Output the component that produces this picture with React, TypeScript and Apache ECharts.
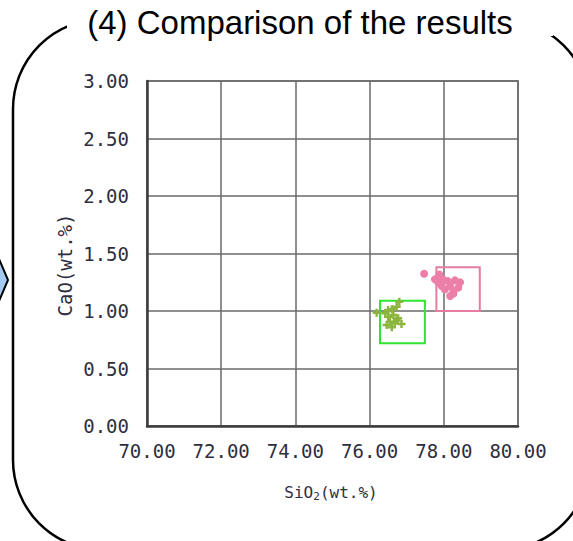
import React, { useEffect, useRef } from 'react';
import * as echarts from 'echarts';

const titleText = '(4) Comparison of the results';
const xAxisName = 'SiO2(wt.%)';
const yAxisName = 'CaO(wt.%)';

const xMin = 70;
const xMax = 80;
const xStep = 2;
const yMin = 0;
const yMax = 3;
const yStep = 0.5;

// pink group
const pinkSiO2 = [77.47, 77.88, 77.98, 77.85, 78.11, 78.3, 78.44, 78.17, 78.39, 78.26, 78.17, 78.26, 77.94, 77.76, 78.03];
const pinkCaO = [1.324, 1.318, 1.275, 1.249, 1.26, 1.266, 1.249, 1.217, 1.203, 1.173, 1.13, 1.151, 1.217, 1.275, 1.188];

// green group
const greenSiO2 = [76.8, 76.73, 76.6, 76.42, 76.19, 76.5, 76.64, 76.77, 76.55, 76.68, 76.86, 76.46, 76.6, 76.73, 76.5];
const greenCaO = [1.081, 1.037, 1.015, 0.98, 0.985, 0.95, 0.965, 0.937, 0.907, 0.893, 0.887, 0.878, 0.858, 0.92, 1.009];

// range boxes [xFrom, yFrom, xTo, yTo]
const pinkBox = [77.8, 1.0, 78.97, 1.38];
const greenBox = [76.28, 0.72, 77.49, 1.09];

const MONO = '"DejaVu Sans Mono", "Liberation Mono", monospace';
const LABEL_COLOR = '#2e2e3e';

const plusPath = 'path://M3.5,0 L6.5,0 L6.5,3.5 L10,3.5 L10,6.5 L6.5,6.5 L6.5,10 L3.5,10 L3.5,6.5 L0,6.5 L0,3.5 L3.5,3.5 Z';

export default function App() {
  const ref = useRef<HTMLDivElement>(null);

  useEffect(() => {
    document.body.style.margin = '0';
    if (!ref.current) return;
    const chart = echarts.init(ref.current, null, { renderer: 'svg' });

    const pinkData = pinkSiO2.map((x, i) => [x, pinkCaO[i]]);
    const greenData = greenSiO2.map((x, i) => [x, greenCaO[i]]);

    chart.setOption({
      animation: false,
      backgroundColor: '#ffffff',
      grid: {
        left: 147,
        top: 81,
        width: 371,
        height: 345,
        show: true,
        borderColor: '#8a8a8a',
        borderWidth: 2,
        containLabel: false,
      },
      xAxis: {
        type: 'value',
        min: xMin,
        max: xMax,
        interval: xStep,
        axisLine: { show: true, onZero: false, lineStyle: { color: '#3c3c3c', width: 2.5 } },
        axisTick: { show: false },
        splitLine: { show: true, lineStyle: { color: '#6a6a6a', width: 1.5 } },
        axisLabel: {
          margin: 15,
          formatter: (v: number) => v.toFixed(2),
          fontFamily: MONO,
          fontSize: 19,
          color: LABEL_COLOR,
        },
      },
      yAxis: {
        type: 'value',
        min: yMin,
        max: yMax,
        interval: yStep,
        axisLine: { show: true, onZero: false, lineStyle: { color: '#3c3c3c', width: 2.5 } },
        axisTick: { show: false },
        splitLine: { show: true, lineStyle: { color: '#6a6a6a', width: 1.5 } },
        axisLabel: {
          margin: 18,
          formatter: (v: number) => v.toFixed(2),
          fontFamily: MONO,
          fontSize: 19,
          color: LABEL_COLOR,
        },
      },
      series: [
        {
          type: 'scatter',
          name: 'pink',
          data: pinkData,
          symbol: 'circle',
          symbolSize: 8,
          itemStyle: { color: '#ec7fa8', opacity: 1 },
          markArea: {
            silent: true,
            itemStyle: { color: 'rgba(0,0,0,0)', borderColor: '#e67d9f', borderWidth: 2 },
            data: [[{ coord: [pinkBox[0], pinkBox[1]] }, { coord: [pinkBox[2], pinkBox[3]] }]],
          },
        },
        {
          type: 'scatter',
          name: 'green',
          data: greenData,
          symbol: plusPath,
          symbolSize: 8,
          itemStyle: { color: '#8cb53e', opacity: 1 },
          markArea: {
            silent: true,
            itemStyle: { color: 'rgba(0,0,0,0)', borderColor: '#2fe52f', borderWidth: 2 },
            data: [[{ coord: [greenBox[0], greenBox[1]] }, { coord: [greenBox[2], greenBox[3]] }]],
          },
        },
      ],
      graphic: [
        {
          type: 'rect',
          z: 1,
          shape: { x: 13, y: 19, width: 577, height: 531, r: 90 },
          style: { fill: 'none', stroke: '#000000', lineWidth: 2.5 },
        },
        {
          type: 'rect',
          z: 2,
          shape: { x: 67, y: 0, width: 486, height: 36 },
          style: { fill: '#ffffff' },
        },
        {
          type: 'text',
          z: 3,
          x: 300,
          y: 6,
          style: {
            text: titleText,
            fontFamily: '"Liberation Sans", Arial, sans-serif',
            fontSize: 33,
            fill: '#000000',
            textAlign: 'center',
            textVerticalAlign: 'top',
          },
        },
        {
          type: 'polygon',
          z: 3,
          shape: { points: [[-4, 252], [8, 280], [-4, 308]] },
          style: { fill: '#a5cbf3', stroke: '#000000', lineWidth: 2 },
        },
        {
          type: 'text',
          z: 3,
          x: 65,
          y: 265,
          rotation: Math.PI / 2,
          style: {
            text: yAxisName,
            fontFamily: MONO,
            fontSize: 19,
            fill: LABEL_COLOR,
            textAlign: 'center',
            textVerticalAlign: 'middle',
          },
        },
        {
          type: 'text',
          z: 3,
          x: 331,
          y: 492,
          style: {
            text: '{a|' + xAxisName.slice(0, 3) + '}{b|' + xAxisName.slice(3, 4) + '}{a|' + xAxisName.slice(4) + '}',
            textAlign: 'center',
            textVerticalAlign: 'middle',
            rich: {
              a: { fontFamily: MONO, fontSize: 16, fill: LABEL_COLOR, lineHeight: 20, verticalAlign: 'middle' },
              b: { fontFamily: MONO, fontSize: 11, fill: LABEL_COLOR, lineHeight: 20, verticalAlign: 'bottom' },
            },
          },
        },
      ],
    });

    return () => chart.dispose();
  }, []);

  return <div ref={ref} style={{ width: 573, height: 541 }} />;
}
